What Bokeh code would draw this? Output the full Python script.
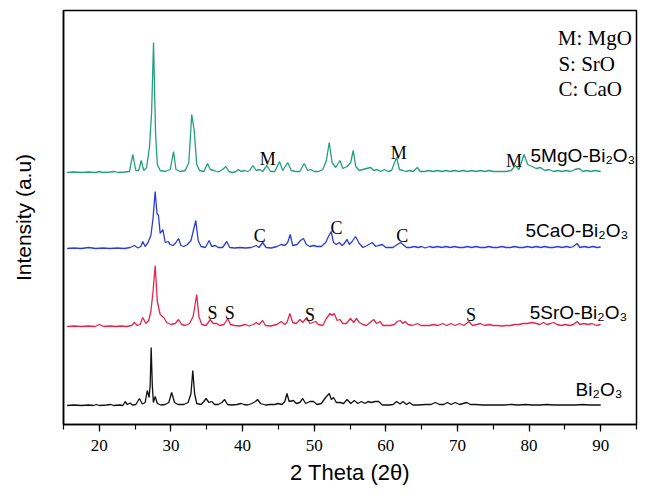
from bokeh.plotting import figure
from bokeh.models import SingleIntervalTicker, FixedTicker, Range1d
from bokeh.core.properties import value
from bokeh.embed import file_html
from bokeh.resources import INLINE

# ---- data (2-theta, relative intensity) ----
bi2o3 = [(15.5,0),(16.5,0.5),(17.5,0),(18.5,0.5),(19.2,0),(19.6,1),(20.0,0),(21.0,0.5),(21.6,1),(22.0,0),
 (22.8,0.5),(23.3,0),(23.6,4),(23.9,1),(24.3,2.5),(24.6,0.5),(25.1,1),(25.6,7),(26.0,1.5),(26.4,3),
 (26.7,15),(26.95,8),(27.1,20),(27.24,58),(27.4,20),(27.55,3),(27.8,9),(28.1,2),(28.6,0.5),(29.2,1),
 (29.7,3),(30.1,13),(30.5,3),(31.0,1),(31.8,1),(32.4,3),(32.8,12),(33.05,35),(33.3,12),(33.6,2),
 (34.2,1),(34.6,4),(34.9,7),(35.3,3),(35.7,4),(36.1,1),(36.6,1),(37.1,3),(37.5,6),(37.9,1),
 (38.5,0.5),(39.2,1),(39.8,2),(40.2,1),(40.7,0.5),(41.3,2),(41.8,4),(42.1,6),(42.5,2),(43.2,0.5),
 (43.8,1),(44.5,1),(45.0,2),(45.5,1),(45.9,4),(46.2,12),(46.5,4),(47.1,5),(47.5,2),(48.0,3),
 (48.4,7),(48.8,2),(49.4,4),(49.9,4),(50.4,1),(51.0,2),(51.6,8),(52.1,12),(52.4,6),(52.7,8),
 (53.1,3),(53.6,3),(54.1,2),(54.6,6),(55.1,2),(55.6,5),(56.1,2),(56.6,4),(57.1,2),(57.5,4),
 (58.0,3),(58.5,4),(59.0,4),(59.5,0.5),(60.0,0.5),(60.5,0.5),(61.0,1),(61.5,4),(62.0,1.5),(62.4,4),
 (62.9,1),(63.3,3),(63.8,0.5),(64.5,0.5),(65.5,1),(66.3,1),(66.9,3),(67.5,1),(68.1,1),(68.6,3),
 (69.1,1),(69.7,3),(70.3,1),(71.3,3),(71.8,1),(72.5,1),(73.5,0.5),(74.5,0.5),(75.5,0.5),(76.5,0.5),
 (77.5,1),(78.5,0.5),(79.5,1),(80.5,0.5),(81.5,0.5),(82.5,1),(83.5,0.5),(84.5,0.5),(85.5,0.5),(86.5,0.5),
 (87.5,1),(88.5,0.5),(89.5,0.5),(90.0,0.5)]

sro_bi2o3 = [(15.5,0),(16.5,0.5),(17.5,0),(18.5,0.5),(19.4,0),(20.0,2),(20.6,0),(21.5,0.5),(22.3,0),(23.0,0.5),
 (23.8,0),(24.5,1),(24.9,4),(25.3,1),(25.7,2),(26.07,9),(26.5,3),(26.9,6),(27.2,15),(27.5,35),
 (27.8,61),(28.1,25),(28.5,12),(29.0,9),(29.4,4),(30.0,2),(30.6,3),(31.06,7),(31.5,2),(32.0,1),
 (32.6,3),(33.1,10),(33.6,32),(33.9,10),(34.3,2),(34.9,1),(35.5,7),(35.9,3),(36.4,3),(36.8,1),
 (37.4,2),(37.95,8),(38.3,2),(38.9,1),(39.6,0.5),(40.4,2),(40.9,0.5),(41.5,2),(41.9,4),(42.3,2),
 (42.8,6),(43.2,1),(43.9,0.5),(44.8,2),(45.4,5),(45.9,2),(46.2,4),(46.6,13),(47.0,4),(47.5,3),
 (48.0,7),(48.4,4),(48.97,9),(49.4,3),(49.8,4),(50.2,5),(50.6,2),(51.2,1),(51.7,8),(52.2,13),
 (52.5,11),(52.8,13),(53.2,6),(53.6,7),(54.0,3),(54.5,3),(55.07,8),(55.5,4),(55.9,8),(56.3,4),
 (56.8,2),(57.3,1),(57.8,4),(58.3,7),(58.7,3),(59.2,5),(59.6,1),(60.1,1),(60.6,1),(61.2,2),
 (61.6,5),(62.0,6),(62.4,3),(62.7,5),(63.1,2),(63.7,1),(64.4,3),(64.9,1),(65.5,1),(66.1,1),
 (66.7,2),(67.3,1),(67.9,3),(68.5,1),(69.1,3),(69.7,1),(70.3,3),(70.9,1),(71.6,5),(72.1,1),
 (72.7,2),(73.2,3),(73.8,1),(74.4,2),(75.0,1),(75.6,1),(76.2,0.5),(76.8,1),(77.4,1),(78.0,2),
 (78.6,2),(79.2,3),(79.8,3),(80.4,4),(81.0,3),(81.5,2),(82.0,4),(82.5,2),(83.0,3),(83.4,4),
 (83.9,2),(84.5,1),(85.1,2),(85.7,1),(86.2,2),(86.7,5),(87.1,2),(87.6,3),(88.2,2),(88.8,3),
 (89.4,1),(90.0,2)]

cao_bi2o3 = [(15.5,0),(16.5,0.5),(17.5,0),(18.5,1),(19.5,0),(20.5,0.5),(21.5,0),(22.5,0.5),(23.5,0),(24.3,1),
 (24.9,3),(25.4,0.5),(25.8,2),(26.07,7),(26.4,2),(26.8,6),(27.2,13),(27.5,30),(27.8,57),(28.05,35),
 (28.26,33),(28.5,15),(28.87,19),(29.2,6),(29.6,7),(29.9,4),(30.3,3),(30.7,6),(31.06,10),(31.4,3),
 (31.8,2),(32.3,4),(32.8,8),(33.2,20),(33.47,28),(33.8,8),(34.2,2),(34.8,1),(35.34,8),(35.7,2),
 (36.2,3),(36.6,1),(37.2,1),(37.8,7),(38.2,1),(38.9,0.5),(39.6,1),(40.4,0.5),(41.2,1),(41.9,3),
 (42.3,1),(42.8,6),(43.3,1),(44.0,0.5),(44.8,2),(45.4,4),(45.9,3),(46.3,6),(46.65,14),(47.0,3),
 (47.6,4),(48.1,8),(48.5,10),(48.9,4),(49.4,2),(49.9,3),(50.4,2),(51.0,2),(51.6,6),(52.0,12),
 (52.37,17),(52.7,6),(53.1,4),(53.5,6),(53.9,3),(54.2,5),(54.6,9),(54.9,4),(55.3,7),(55.77,12),
 (56.3,5),(56.8,1),(57.4,3),(58.1,6),(58.6,2),(59.0,3),(59.5,4),(60.0,1),(60.5,1),(61.0,1),
 (61.6,4),(62.05,6),(62.4,4),(62.9,1),(63.4,1),(64.0,2),(64.5,1),(65.0,2),(65.5,0.5),(66.1,2),
 (66.6,1),(67.2,2),(67.8,1),(68.4,2),(69.0,1),(69.6,2),(70.2,1),(70.8,1),(71.4,2),(72.0,1),
 (72.6,2),(73.2,1),(73.8,1),(74.4,2),(75.0,1),(75.6,1),(76.2,2),(76.8,1),(77.4,1),(78.0,2),
 (78.6,1),(79.2,1),(79.8,2),(80.4,1),(81.0,2),(81.6,1),(82.2,2),(82.8,1),(83.4,1),(84.0,2),
 (84.6,1),(85.2,2),(85.8,1),(86.2,2),(86.7,5),(87.1,1),(87.7,2),(88.3,1),(88.9,2),(89.5,1),
 (90.0,1.5)]

mgo_bi2o3 = [(15.5,0),(16.5,0.5),(17.5,0),(18.5,0.5),(19.5,0),(20.0,1),(20.5,0),(21.5,0.5),(22.2,1),(22.6,0),
 (23.5,0.5),(24.2,1),(24.68,18),(25.1,2),(25.5,2),(25.85,12),(26.2,2),(26.6,5),(27.0,25),(27.3,60),
 (27.57,130),(27.85,40),(28.1,8),(28.5,2),(29.2,1),(29.9,3),(30.36,21),(30.7,3),(31.3,1),(32.0,2),
 (32.5,10),(32.9,58),(33.25,42),(33.6,8),(34.0,2),(34.6,1),(35.1,9),(35.5,3),(36.0,2),(36.6,0.5),
 (37.2,3),(37.66,6),(38.1,1),(38.6,0),(39.1,1),(39.4,3),(39.8,1),(40.3,2),(40.7,1),(41.0,2),
 (41.43,7),(41.9,2),(42.4,3),(42.8,1),(43.4,7),(43.9,1),(44.5,1),(45.16,11),(45.6,2),(46.3,10),
 (46.8,2),(47.4,1),(48.0,1),(48.6,9),(49.1,2),(49.5,3),(50.0,1),(50.6,1),(51.2,3),(51.7,12),
 (52.1,30),(52.5,10),(53.0,5),(53.6,12),(54.0,4),(54.6,6),(55.1,10),(55.45,22),(55.8,6),(56.3,2),
 (56.8,3),(57.3,4),(57.9,5),(58.3,2),(58.8,3),(59.3,1),(59.8,3),(60.3,1),(60.8,2),(61.5,15),
 (61.9,3),(62.4,2),(62.8,1),(63.3,2),(63.8,1),(64.4,5),(64.8,1),(65.4,1),(66.0,2),(66.6,1),
 (67.2,2),(67.8,1),(68.4,2),(69.0,1),(69.6,2),(70.2,1),(70.8,2),(71.4,1),(72.0,2),(72.6,1),
 (73.2,2),(73.8,1),(74.4,2),(75.0,1),(75.6,1),(76.2,1),(76.8,1),(77.5,2),(78.1,7),(78.6,3),
 (79.3,18),(79.8,8),(80.4,6),(81.0,4),(81.6,5),(82.2,2),(82.8,3),(83.4,1),(84.0,2),(84.6,1),
 (85.2,2),(85.8,1),(86.4,3),(87.0,4),(87.5,1),(88.0,2),(88.6,1),(89.2,2),(90.0,1)]

series_names = ["Bi\u2082O\u2083", "5SrO-Bi\u2082O\u2083", "5CaO-Bi\u2082O\u2083", "5MgO-Bi\u2082O\u2083"]
series_offsets = [19, 98, 176, 252]          # vertical stacking offset of each pattern
series_colors = ["#111111", "#e8244c", "#2b3dd6", "#22a07c"]

phase_letters = ["M", "M", "M", "C", "C", "C", "S", "S", "S", "S"]
phase_theta = [43.5, 61.8, 77.9, 42.4, 53.1, 62.3, 35.8, 38.2, 49.4, 71.9]
phase_level = [266, 272, 264, 189, 197, 189, 112, 112, 110, 110]

key_texts = ["M: MgO", "S: SrO", "C: CaO"]

x_ticks_interval = 10

# ---- figure ----
p = figure(width=650, height=495, output_backend="svg", toolbar_location=None,
           x_range=Range1d(15, 95), y_range=Range1d(0, 414),
           min_border_left=63, min_border_right=14, min_border_top=10, min_border_bottom=71)

p.xgrid.visible = False
p.ygrid.visible = False
p.outline_line_color = "black"
p.outline_line_width = 1.5

for data, off, col in zip([bi2o3, sro_bi2o3, cao_bi2o3, mgo_bi2o3], series_offsets, series_colors):
    xs = [d[0] for d in data]
    ys = [d[1] + off for d in data]
    p.line(xs, ys, line_color=col, line_width=1.3)

# series labels
label_x = [86.5, 80.1, 79.5, 80.2]
label_y = [35, 112, 194, 269]
p.text(x=label_x, y=label_y, text=series_names, text_font=value("Liberation Sans"),
       text_font_size="19px", text_color="black", text_baseline="alphabetic", text_align="left")

# phase markers
p.text(x=phase_theta, y=phase_level, text=phase_letters, text_font=value("Liberation Serif"),
       text_font_size="18px", text_color="black", text_baseline="alphabetic", text_align="center")

# key
p.text(x=[84.0, 84.1, 84.1], y=[387, 361, 336], text=key_texts, text_font=value("Liberation Serif"),
       text_font_size="21px", text_color="black", text_baseline="alphabetic", text_align="left")

# axes
xa = p.xaxis[0]
xa.ticker = SingleIntervalTicker(interval=x_ticks_interval, num_minor_ticks=2)
xa.axis_label = "2 Theta (2\u03b8)"
xa.axis_label_text_font = "Liberation Sans"
xa.axis_label_text_font_style = "normal"
xa.axis_label_text_font_size = "22px"
xa.axis_label_text_color = "black"
xa.axis_label_standoff = 6
xa.major_label_text_font = "Liberation Serif"
xa.major_label_text_font_size = "17px"
xa.major_label_text_color = "black"
xa.major_label_standoff = 8
xa.axis_line_width = 1.5
xa.axis_line_color = "black"
xa.major_tick_in = 0
xa.major_tick_out = 7
xa.minor_tick_in = 0
xa.minor_tick_out = 5
xa.major_tick_line_width = 1.2
xa.minor_tick_line_width = 1.2
xa.major_tick_line_color = "black"
xa.minor_tick_line_color = "black"

ya = p.yaxis[0]
ya.ticker = FixedTicker(ticks=[])
ya.axis_label = "Intensity (a.u)"
ya.axis_label_text_font = "Liberation Sans"
ya.axis_label_text_font_style = "normal"
ya.axis_label_text_font_size = "21px"
ya.axis_label_text_color = "black"
ya.axis_label_standoff = 29
ya.axis_line_width = 1.5
ya.axis_line_color = "black"
ya.major_tick_line_color = None
ya.minor_tick_line_color = None
ya.major_label_text_font_size = "0px"

open("out.html", "w").write(file_html(p, INLINE))
